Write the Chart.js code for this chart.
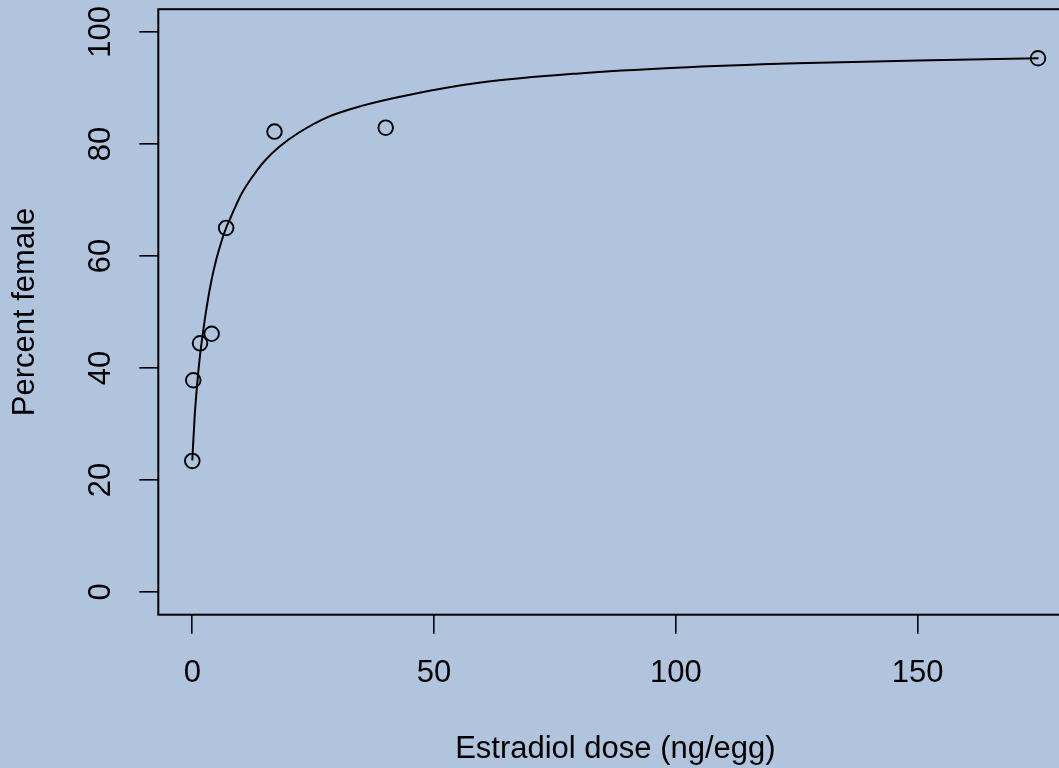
<!DOCTYPE html>
<html>
<head>
<meta charset="utf-8">
<script src="https://cdn.jsdelivr.net/npm/chart.js@4"></script>
<style>
  html, body { margin: 0; padding: 0; background: #B0C4DE; overflow: hidden; }
  #wrap { position: absolute; left: 0; top: 0; width: 1100px; height: 768px; }
</style>
</head>
<body>
<div id="wrap"><canvas id="doseChart" width="1100" height="768"></canvas></div>
<script>
// observed points (dose in ng/egg, percent female)
const doseX = [0, 0.2, 1.6, 4.0, 7.0, 17.0, 40.0, 174.9];
const femaleY = [23.4, 37.8, 44.4, 46.1, 65.0, 82.2, 82.9, 95.3];

// fitted curve
const curveX = [0, 0.5, 1, 1.5, 2, 3, 4, 5, 6, 7, 8, 10, 12, 15, 18, 22, 28, 35, 45, 60, 80, 100, 125, 150, 175];
const curveY = [23.5, 31.5, 37.0, 41.5, 45.0, 51.0, 55.8, 59.5, 62.5, 65.0, 67.0, 70.8, 73.6, 77.0, 79.5, 82.0, 84.8, 86.8, 88.8, 91.0, 92.6, 93.6, 94.4, 94.9, 95.3];

const xTicks = [0, 50, 100, 150];
const yTicks = [0, 20, 40, 60, 80, 100];

const FONT = 'Liberation Sans, Arial, Helvetica, sans-serif';

// box around the plot region + rotated y tick labels (like base R)
const rStyle = {
    id: 'rStyle',
    afterDraw(chart) {
        const ctx = chart.ctx;
        const a = chart.chartArea;
        ctx.save();
        ctx.strokeStyle = '#000';
        ctx.lineWidth = 2;
        ctx.strokeRect(a.left, a.top, a.right - a.left, a.bottom - a.top);

        const y = chart.scales.y;
        ctx.fillStyle = '#000';
        ctx.font = '31px ' + FONT;
        ctx.textAlign = 'center';
        ctx.textBaseline = 'middle';
        yTicks.forEach(v => {
            ctx.save();
            ctx.translate(101.7, y.getPixelForValue(v));
            ctx.rotate(-Math.PI / 2);
            ctx.fillText(String(v), 0, 0);
            ctx.restore();
        });
        ctx.restore();
    }
};

const ctx = document.getElementById('doseChart').getContext('2d');
new Chart(ctx, {
    type: 'scatter',
    data: {
        datasets: [
            {
                label: 'fit',
                data: curveX.map((x, i) => ({ x: x, y: curveY[i] })),
                showLine: true,
                borderColor: '#000',
                borderWidth: 2,
                pointRadius: 0,
                cubicInterpolationMode: 'monotone',
                order: 2
            },
            {
                label: 'observed',
                data: doseX.map((x, i) => ({ x: x, y: femaleY[i] })),
                showLine: false,
                pointStyle: 'circle',
                pointRadius: 7.3,
                pointBorderWidth: 1.9,
                pointBorderColor: '#000',
                pointBackgroundColor: 'rgba(0,0,0,0)',
                order: 1
            }
        ]
    },
    options: {
        responsive: false,
        animation: false,
        events: [],
        layout: { padding: { left: 0, top: 7.5, right: 27.5, bottom: 0 } },
        plugins: { legend: { display: false }, tooltip: { enabled: false } },
        scales: {
            x: {
                type: 'linear',
                min: -7.03,
                max: 182.03,
                afterBuildTicks: s => { s.ticks = xTicks.map(v => ({ value: v })); },
                afterFit: s => { s.height = 153.3; },
                border: { display: false },
                grid: { drawOnChartArea: false, drawTicks: true, tickLength: 19, color: '#000', lineWidth: 1.6 },
                ticks: { color: '#000', font: { family: FONT, size: 31, lineHeight: 1 }, padding: 24.6, maxRotation: 0, autoSkip: false },
                title: {
                    display: true,
                    text: 'Estradiol dose (ng/egg)',
                    color: '#000',
                    font: { family: FONT, size: 31, lineHeight: 1 },
                    padding: { top: 0, bottom: 3.5 }
                }
            },
            y: {
                type: 'linear',
                min: -4.06,
                max: 104.06,
                afterBuildTicks: s => { s.ticks = yTicks.map(v => ({ value: v })); },
                afterFit: s => { s.width = 158.3; },
                border: { display: false },
                grid: { drawOnChartArea: false, drawTicks: true, tickLength: 19, color: '#000', lineWidth: 1.6 },
                ticks: { display: false },
                title: {
                    display: true,
                    text: 'Percent female',
                    color: '#000',
                    font: { family: FONT, size: 31, lineHeight: 1 },
                    padding: { top: 10.1, bottom: 0 }
                }
            }
        }
    },
    plugins: [rStyle]
});
</script>
</body>
</html>
